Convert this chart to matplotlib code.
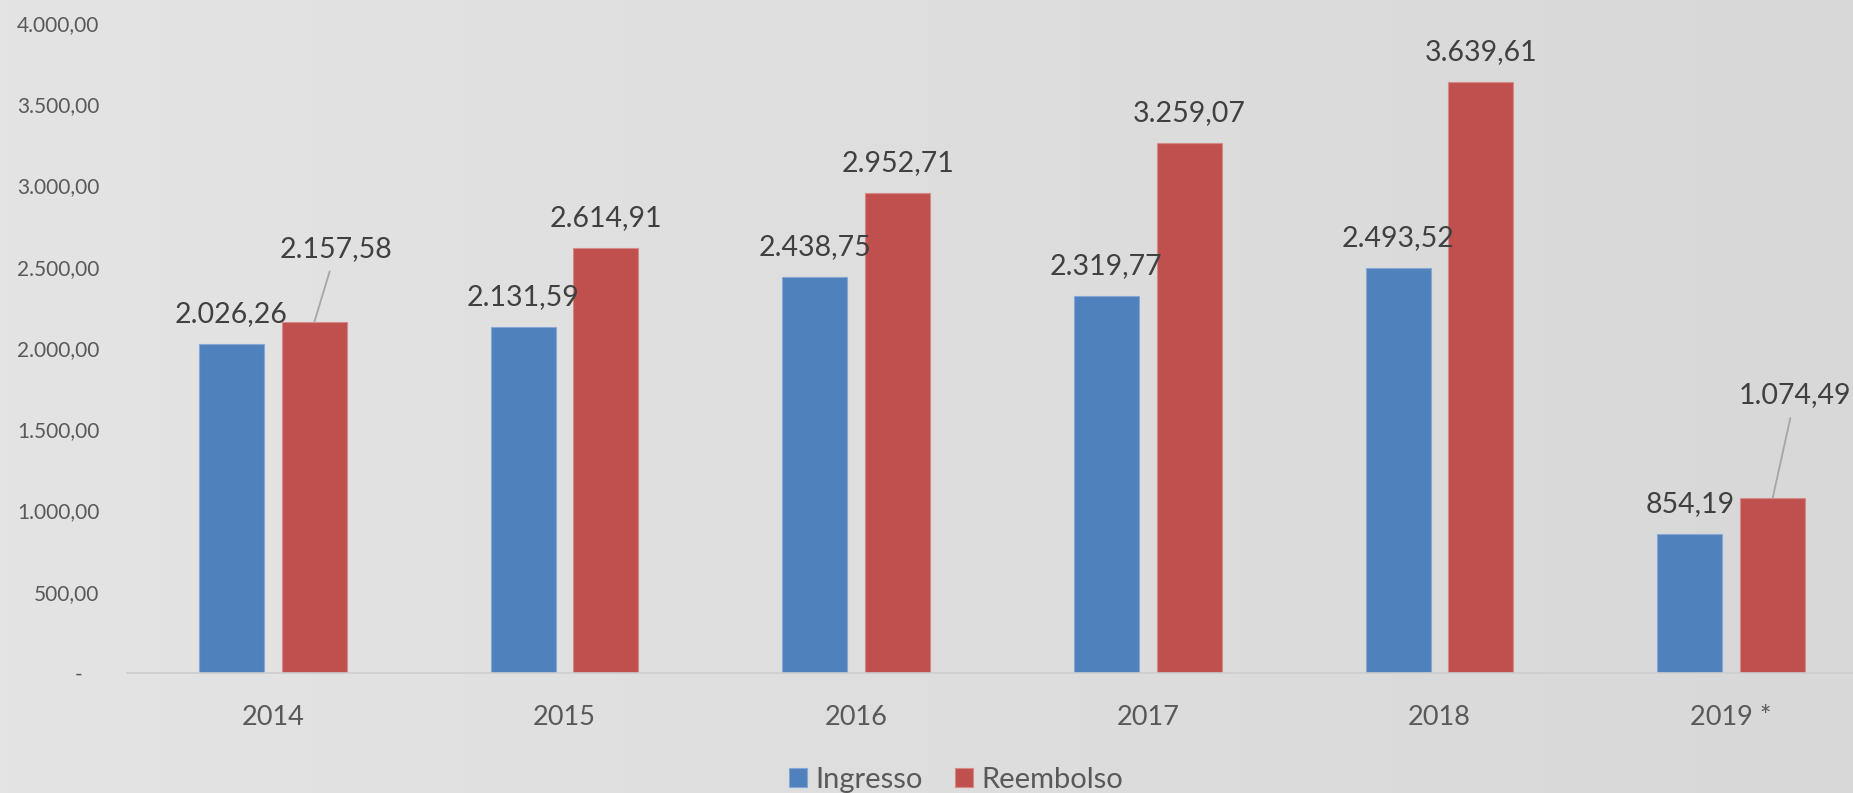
import matplotlib
matplotlib.use("Agg")
import matplotlib.pyplot as plt
import numpy as np
from matplotlib.colors import LinearSegmentedColormap
from matplotlib.ticker import FuncFormatter

# dati
anni = ["2014", "2015", "2016", "2017", "2018", "2019 *"]
ingresso = [2026.26, 2131.59, 2438.75, 2319.77, 2493.52, 854.19]
reembolso = [2157.58, 2614.91, 2952.71, 3259.07, 3639.61, 1074.49]


def formato(v):
    s = f"{v:,.2f}"
    return s.replace(",", "X").replace(".", ",").replace("X", ".")


plt.rcParams['font.family'] = ['Lato', 'DejaVu Sans']

fig = plt.figure(figsize=(18.53, 7.93), dpi=100)

# sfondo sfumato
bg = fig.add_axes([0, 0, 1, 1], zorder=-10)
grad = np.linspace(0, 1, 256).reshape(1, -1)
cm = LinearSegmentedColormap.from_list("bg", ["#e4e4e4", "#d8d8d8"])
bg.imshow(grad, aspect='auto', cmap=cm, extent=[0, 1, 0, 1])
bg.axis('off')

ax = fig.add_axes([127 / 1853, 120 / 793, 1750 / 1853, 650 / 793])
ax.set_facecolor('none')

x = np.arange(len(anni))
w = 0.223
off = 0.142
b1 = ax.bar(x - off, ingresso, w, color='#4f81bd', edgecolor='#86a7d4', linewidth=0.8, label='Ingresso')
b2 = ax.bar(x + off, reembolso, w, color='#c0504d', edgecolor='#d58a88', linewidth=0.8, label='Reembolso')

ax.set_xlim(-0.5, 5.5)
ax.set_ylim(0, 4000)
ax.set_yticks(np.arange(0, 4001, 500))
ax.yaxis.set_major_formatter(FuncFormatter(lambda v, p: "-   " if v == 0 else formato(v)))
ax.tick_params(axis='y', length=0, pad=20, labelsize=15, labelcolor='#595959')
ax.set_xticks(x, anni)
ax.tick_params(axis='x', length=0, pad=23, labelsize=19.5, labelcolor='#595959')

for s in ['left', 'top', 'right']:
    ax.spines[s].set_visible(False)
ax.spines['bottom'].set_color('#cdcdcd')
ax.spines['bottom'].set_linewidth(1.2)

lab = dict(fontsize=20.5, color='#404040', ha='center', va='center')
for i in range(len(anni)):
    ax.annotate(formato(ingresso[i]), (x[i] - off, ingresso[i]), xytext=(0, 21.6),
                textcoords='offset points', **lab)
    if i in (0, 5):
        continue
    ax.annotate(formato(reembolso[i]), (x[i] + off, reembolso[i]), xytext=(0, 21.6),
                textcoords='offset points', **lab)

# etichette con linea guida
linea = dict(arrowstyle='-', color='#a6a6a6', lw=1.3, shrinkA=5, shrinkB=0)
ax.annotate(formato(reembolso[0]), (x[0] + off, reembolso[0]), xytext=(0.218, 2609),
            textcoords='data', arrowprops=linea, **lab)
ax.annotate(formato(reembolso[5]), (x[5] + off, reembolso[5]), xytext=(5.22, 1708),
            textcoords='data', arrowprops=linea, **lab)

fig.legend(handles=[b1, b2], loc='center', bbox_to_anchor=(0.516, 0.017),
           ncol=2, frameon=False, fontsize=21, handlelength=0.62, handleheight=0.62,
           handletextpad=0.28, columnspacing=1.1, labelcolor='#595959')

fig.savefig('out.png', dpi=100)
